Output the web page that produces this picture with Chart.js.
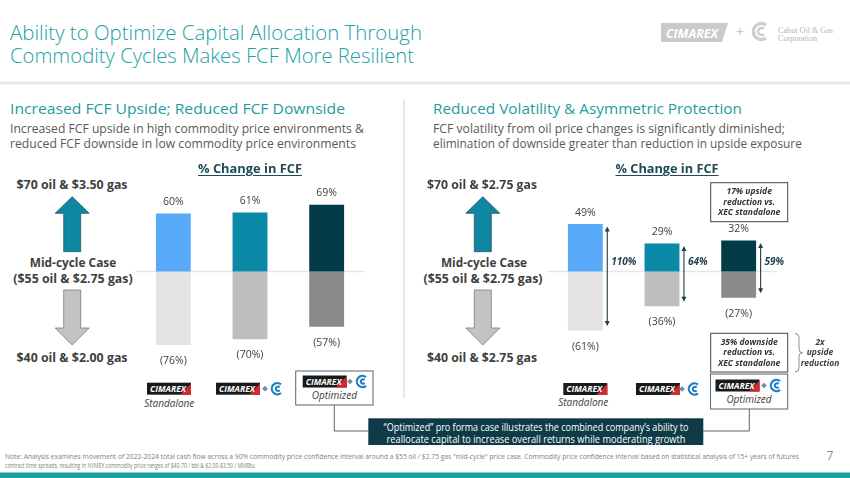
<!DOCTYPE html>
<html>
<head>
<meta charset="utf-8">
<script src="https://cdn.jsdelivr.net/npm/chart.js@4.4.1/dist/chart.umd.min.js"></script>
<style>
  body { margin: 0; width: 850px; height: 478px; overflow: hidden; background: #fff; position: relative; font-family: "Open Sans", sans-serif; }
  .t { position: absolute; white-space: nowrap; line-height: 1; transform-origin: left center; }
  .l { transform: translateY(-50%); }
  .c { transform: translate(-50%, -50%); transform-origin: center center; }
  .title { font-size: 21px; font-weight: 300; color: #23a0a4; }
  .head { font-size: 15px; color: #1f9ca0; }
  .desc { font-size: 12px; color: #595959; }
  .case { font-size: 12px; font-weight: 700; color: #404040; }
  .pct { font-size: 12px; font-weight: 700; color: #1d4b58; text-decoration: underline; text-underline-offset: 2px; }
  .it { font-size: 10px; font-style: italic; color: #404040; }
  .box { font-size: 8.5px; font-weight: 700; font-style: italic; color: #333; text-align: center; line-height: 10.5px; }
  .note { font-size: 7px; color: #808080; }
  .call { font-size: 11px; color: #fff; }
  svg#deco { position: absolute; left: 0; top: 0; }
  .chart { position: absolute; }
</style>
</head>
<body>
<svg id="deco" width="850" height="478" viewBox="0 0 850 478">
  <defs>
    <g id="cmx">
      <rect width="44" height="12" fill="#1a1a1a"/>
      <polygon points="33,12 44,1 44,12" fill="#d42a2f"/>
      <text x="3" y="9.3" font-family="Open Sans" font-size="8" font-weight="700" font-style="italic" fill="#fff" textLength="36" lengthAdjust="spacingAndGlyphs">CIMAREX</text>
    </g>
    <g id="cabot">
      <rect x="-2" y="4.5" width="4" height="4" transform="rotate(45 0 6.5)" fill="#6a8ea3"/>
      <path d="M16 2.2 A5.6 5.6 0 1 0 16 10.8" fill="none" stroke="#1b7fc6" stroke-width="2.2"/>
      <path d="M14.6 5 A2.2 2.2 0 1 0 14.6 8" fill="none" stroke="#1b7fc6" stroke-width="2"/>
    </g>
  </defs>
  <!-- логотип в шапке -->
  <polygon points="661,23 728,23 722,42 661,42" fill="#c9cbc9"/>
  <text x="666" y="37.5" font-family="Open Sans" font-size="12" font-weight="700" font-style="italic" fill="#fff" textLength="52" lengthAdjust="spacingAndGlyphs">CIMAREX</text>
  <text x="740" y="37" font-family="Open Sans" font-size="14" fill="#c4c4c4" text-anchor="middle">+</text>
  <path d="M766 25 A8 8 0 1 0 766 38" fill="none" stroke="#cdd0cd" stroke-width="3.5"/>
  <path d="M764 29 A3.5 3.5 0 1 0 764 34" fill="none" stroke="#cdd0cd" stroke-width="2.5"/>

  <rect x="0" y="81.5" width="850" height="3" fill="#e8e8e8"/>
  <line x1="404" y1="100" x2="404" y2="398" stroke="#cfcfcf" stroke-width="1"/>

  <!-- большие стрелки -->
  <polygon points="63.7,251.7 63.7,213.3 55.2,213.3 72.2,196.7 89.2,213.3 80.7,213.3 80.7,251.7" fill="#0f87a3" stroke="#2a5563" stroke-width="0.8"/>
  <polygon points="63.7,290 80.7,290 80.7,328 89.2,328 72.2,345 55.2,328 63.7,328" fill="#c3c3c3" stroke="#7a7a7a" stroke-width="0.8"/>
  <polygon points="474.3,251.7 474.3,213.3 465.8,213.3 482.8,196.7 499.8,213.3 491.3,213.3 491.3,251.7" fill="#0f87a3" stroke="#2a5563" stroke-width="0.8"/>
  <polygon points="474.3,290 491.3,290 491.3,328 499.8,328 482.8,345 465.8,328 474.3,328" fill="#c3c3c3" stroke="#7a7a7a" stroke-width="0.8"/>

  <!-- логотипы слева -->
  <use href="#cmx" x="147" y="382.7"/>
  <use href="#cmx" x="216" y="382.7"/>
  <use href="#cabot" x="265" y="382.2"/>
  <rect x="295.7" y="371" width="77.3" height="34" fill="#fff" stroke="#55676f" stroke-width="1"/>
  <use href="#cmx" x="302.7" y="375.5"/>
  <use href="#cabot" x="350" y="375"/>
  <!-- логотипы справа -->
  <use href="#cmx" x="563.3" y="383"/>
  <use href="#cmx" x="636" y="383"/>
  <use href="#cabot" x="682" y="382.5"/>
  <rect x="710.5" y="374" width="77.2" height="35" fill="#fff" stroke="#55676f" stroke-width="1"/>
  <use href="#cmx" x="715.5" y="379.5"/>
  <use href="#cabot" x="764" y="379"/>

  <!-- выноски -->
  <rect x="710.7" y="182.7" width="77" height="39" fill="#fff" stroke="#444" stroke-width="1"/>
  <rect x="710.7" y="333.3" width="77" height="38.7" fill="#fff" stroke="#444" stroke-width="1"/>
  <path d="M795,333.5 Q799,333.5 799,337.5 L799,349 Q799,352.7 802.5,352.7 Q799,352.7 799,356.4 L799,368 Q799,372 795,372" fill="none" stroke="#808080" stroke-width="0.9"/>

  <!-- соединительные линии и нижняя плашка -->
  <polyline points="334.3,405 334.3,431 368.3,431" fill="none" stroke="#55676f" stroke-width="1"/>
  <polyline points="703.3,431 749.3,431 749.3,409" fill="none" stroke="#55676f" stroke-width="1"/>
  <rect x="368.3" y="418.3" width="335" height="26.7" fill="#0e3b47"/>

  <rect x="0" y="472.5" width="850" height="5.5" fill="#15a0a2"/>
</svg>

<div class="chart" style="left:135px;top:165px;width:230px;height:213px;"><canvas id="chartA" width="230" height="213"></canvas></div>
<div class="chart" style="left:547px;top:165px;width:252px;height:213px;"><canvas id="chartB" width="252" height="213"></canvas></div>

<div class="t l title" style="left:10px;top:32.3px" data-w="412">Ability to Optimize Capital Allocation Through</div>
<div class="t l title" style="left:10px;top:55px" data-w="404">Commodity Cycles Makes FCF More Resilient</div>
<div class="t l" style="left:778px;top:31px;font-family:'Liberation Serif';font-size:8px;color:#b4b4b4" data-w="55">Cabot Oil &amp; Gas</div>
<div class="t l" style="left:778px;top:39.3px;font-family:'Liberation Serif';font-size:8px;color:#b4b4b4" data-w="39">Corporation</div>

<div class="t l head" style="left:10px;top:108.3px" data-w="335">Increased FCF Upside; Reduced FCF Downside</div>
<div class="t l desc" style="left:10px;top:128.5px" data-w="354">Increased FCF upside in high commodity price environments &amp;</div>
<div class="t l desc" style="left:10px;top:144px" data-w="346">reduced FCF downside in low commodity price environments</div>
<div class="t l head" style="left:433px;top:108.3px" data-w="309">Reduced Volatility &amp; Asymmetric Protection</div>
<div class="t l desc" style="left:433px;top:128.5px" data-w="352">FCF volatility from oil price changes is significantly diminished;</div>
<div class="t l desc" style="left:433px;top:144px" data-w="369">elimination of downside greater than reduction in upside exposure</div>

<div class="t c pct" style="left:249.7px;top:169px" data-w="104">% Change in FCF</div>
<div class="t c pct" style="left:666.7px;top:169px" data-w="103">% Change in FCF</div>

<div class="t c case" style="left:72.2px;top:185px" data-w="111">$70 oil &amp; $3.50 gas</div>
<div class="t c case" style="left:73.3px;top:263.3px" data-w="86.5">Mid-cycle Case</div>
<div class="t c case" style="left:73px;top:279px" data-w="119.4">($55 oil &amp; $2.75 gas)</div>
<div class="t c case" style="left:72.2px;top:358.3px" data-w="111">$40 oil &amp; $2.00 gas</div>
<div class="t c case" style="left:482.3px;top:185px" data-w="110">$70 oil &amp; $2.75 gas</div>
<div class="t c case" style="left:483.7px;top:263.3px" data-w="86">Mid-cycle Case</div>
<div class="t c case" style="left:482.8px;top:279px" data-w="119">($55 oil &amp; $2.75 gas)</div>
<div class="t c case" style="left:482.3px;top:358.3px" data-w="110">$40 oil &amp; $2.75 gas</div>

<div class="t c it" style="left:169.3px;top:402.7px">Standalone</div>
<div class="t c it" style="left:334.3px;top:395px">Optimized</div>
<div class="t c it" style="left:583.3px;top:402.3px">Standalone</div>
<div class="t c it" style="left:749px;top:398.7px">Optimized</div>

<div class="t c box" style="left:749.2px;top:202.2px">17% upside<br>reduction vs.<br>XEC standalone</div>
<div class="t c box" style="left:749.2px;top:352.5px">35% downside<br>reduction vs.<br>XEC standalone</div>
<div class="t c box" style="left:820px;top:352.5px;color:#404040">2x<br>upside<br>reduction</div>

<div class="t c call" style="left:536px;top:425.7px" data-w="305">“Optimized” pro forma case illustrates the combined company’s ability to</div>
<div class="t c call" style="left:536px;top:437.5px" data-w="299">reallocate capital to increase overall returns while moderating growth</div>

<div class="t l note" style="left:5px;top:455.5px" data-w="794">Note: Analysis examines movement of 2022-2024 total cash flow across a 90% commodity price confidence interval around a $55 oil / $2.75 gas "mid-cycle" price case. Commodity price confidence interval based on statistical analysis of 15+ years of futures</div>
<div class="t l note" style="left:5px;top:464.5px" data-w="250">contract time spreads, resulting in NYMEX commodity price ranges of $40-70 / bbl &amp; $2.00-$3.50 / MMBtu</div>
<div class="t c" style="left:830px;top:456px;font-size:12px;color:#8c8c8c">7</div>

<script>
// варианты
const cases = ["Standalone", "Combined", "Optimized"];
// левый график: рост / падение FCF, %
const upsideLeft = [60, 61, 69];
const downsideLeft = [-76, -70, -57];
// правый график
const upsideRight = [49, 29, 32];
const downsideRight = [-61, -36, -27];
// размах колебаний, %
const spreadRight = [110, 64, 59];

const upColors = ["#58aaf8", "#0a8aa6", "#033a47"];
const downColors = ["#e3e3e3", "#bebebe", "#8a8a8a"];

// подписи значений, нулевая линия и стрелки размаха
const fcfLabels = {
  id: "fcfLabels",
  beforeDatasetsDraw(chart) {
    const { ctx, chartArea } = chart;
    const y0 = chart.scales.y.getPixelForValue(0);
    ctx.save();
    ctx.strokeStyle = "#e6e6e6";
    ctx.lineWidth = 1.5;
    ctx.beginPath();
    ctx.moveTo(chartArea.left, y0);
    ctx.lineTo(chartArea.right, y0);
    ctx.stroke();
    ctx.restore();
  },
  afterDatasetsDraw(chart, args, opts) {
    const { ctx } = chart;
    const y = chart.scales.y;
    const up = chart.getDatasetMeta(0).data;
    const down = chart.getDatasetMeta(1).data;
    const upData = chart.data.datasets[0].data;
    const downData = chart.data.datasets[1].data;
    ctx.save();
    ctx.fillStyle = "#404040";
    ctx.font = "10.5px 'Open Sans'";
    ctx.textAlign = "center";
    ctx.textBaseline = "middle";
    up.forEach((bar, i) => {
      ctx.fillText(upData[i] + "%", bar.x, bar.y - 11.5);
    });
    down.forEach((bar, i) => {
      ctx.fillText("(" + Math.abs(downData[i]) + "%)", bar.x, bar.y + 16);
    });
    if (opts.spread) {
      ctx.strokeStyle = "#1e3e4a";
      ctx.fillStyle = "#1e3e4a";
      ctx.lineWidth = 1.1;
      up.forEach((bar, i) => {
        const x = bar.x + bar.width / 2 + 4.5;
        const top = y.getPixelForValue(upData[i]) + 2.5;
        const bot = y.getPixelForValue(downData[i]) - 4.5;
        ctx.beginPath();
        ctx.moveTo(x, top + 4);
        ctx.lineTo(x, bot - 4);
        ctx.stroke();
        ctx.beginPath();
        ctx.moveTo(x, top);
        ctx.lineTo(x - 2.5, top + 5);
        ctx.lineTo(x + 2.5, top + 5);
        ctx.fill();
        ctx.beginPath();
        ctx.moveTo(x, bot);
        ctx.lineTo(x - 2.5, bot - 5);
        ctx.lineTo(x + 2.5, bot - 5);
        ctx.fill();
        ctx.font = "italic 700 10px 'Open Sans'";
        ctx.textAlign = "left";
        ctx.fillText(opts.spread[i] + "%", x + 4, y.getPixelForValue(0) - 9.5);
      });
    }
    ctx.restore();
  },
};

function createChart(element, up, down, spread, padRight) {
  return new Chart(element, {
    type: "bar",
    data: {
      labels: cases,
      datasets: [
        { data: up, backgroundColor: upColors },
        { data: down, backgroundColor: downColors },
      ],
    },
    options: {
      responsive: false,
      animation: false,
      layout: { padding: { left: 0, top: 0, bottom: 0, right: padRight } },
      datasets: { bar: { barPercentage: 0.455, categoryPercentage: 1 } },
      scales: {
        x: { display: false, stacked: true },
        y: { display: false, stacked: true, min: -110, max: 110 },
      },
      plugins: {
        legend: { display: false },
        tooltip: { enabled: false },
        fcfLabels: { spread: spread },
      },
    },
    plugins: [fcfLabels],
  });
}

// подгонка ширины текста под макет
function fitText() {
  document.querySelectorAll("[data-w]").forEach((el) => {
    const w = el.getBoundingClientRect().width;
    const base = el.classList.contains("c") ? "translate(-50%, -50%)" : "translateY(-50%)";
    el.style.transform = base + " scaleX(" + (el.dataset.w / w).toFixed(3) + ")";
  });
}

document.fonts.ready.then(() => {
  fitText();
  createChart(document.getElementById("chartA"), upsideLeft, downsideLeft, null, 0);
  createChart(document.getElementById("chartB"), upsideRight, downsideRight, spreadRight, 22);
});
</script>
</body>
</html>
